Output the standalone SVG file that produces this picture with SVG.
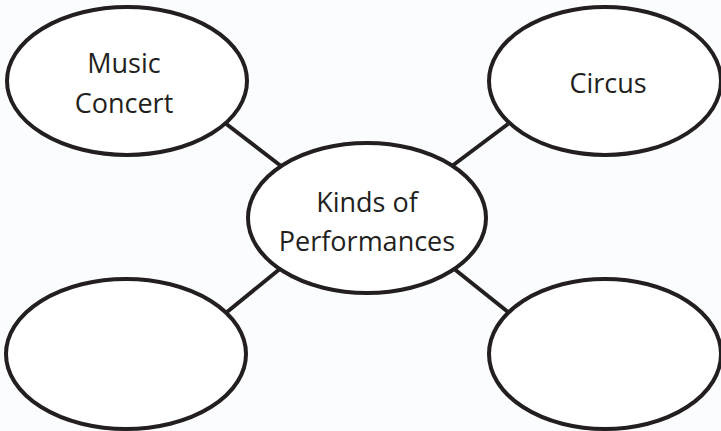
<svg xmlns="http://www.w3.org/2000/svg" width="721" height="431" viewBox="0 0 721 431">
<style>
.node ellipse{fill:#ffffff;stroke:#231f20;stroke-width:4}
.edge{stroke:#231f20;stroke-width:4;fill:none}
text{font-family:"Open Sans","Liberation Sans",sans-serif;font-size:27px;fill:#231f20;text-anchor:middle}
</style>
<rect width="721" height="431" fill="#fbfcfd"/>
<g id="connectors">
<line class="edge" x1="225" y1="123" x2="281" y2="166"/>
<line class="edge" x1="508" y1="124" x2="452" y2="166"/>
<line class="edge" x1="227" y1="312" x2="281" y2="268"/>
<line class="edge" x1="453" y1="268" x2="508" y2="312"/>
</g>
<g id="music" class="node">
<ellipse cx="127" cy="81" rx="120" ry="74"/>
<text x="124" y="73">Music</text>
<text x="124" y="113">Concert</text>
</g>
<g id="circus" class="node">
<ellipse cx="605" cy="81" rx="116" ry="74"/>
<text x="608" y="93">Circus</text>
</g>
<g id="center" class="node">
<ellipse cx="367" cy="218" rx="119" ry="75"/>
<text x="367" y="212">Kinds of</text>
<text x="367" y="251">Performances</text>
</g>
<g id="blank-left" class="node">
<ellipse cx="126" cy="354" rx="120" ry="75"/>
</g>
<g id="blank-right" class="node">
<ellipse cx="605" cy="354" rx="116" ry="75"/>
</g>
</svg>
